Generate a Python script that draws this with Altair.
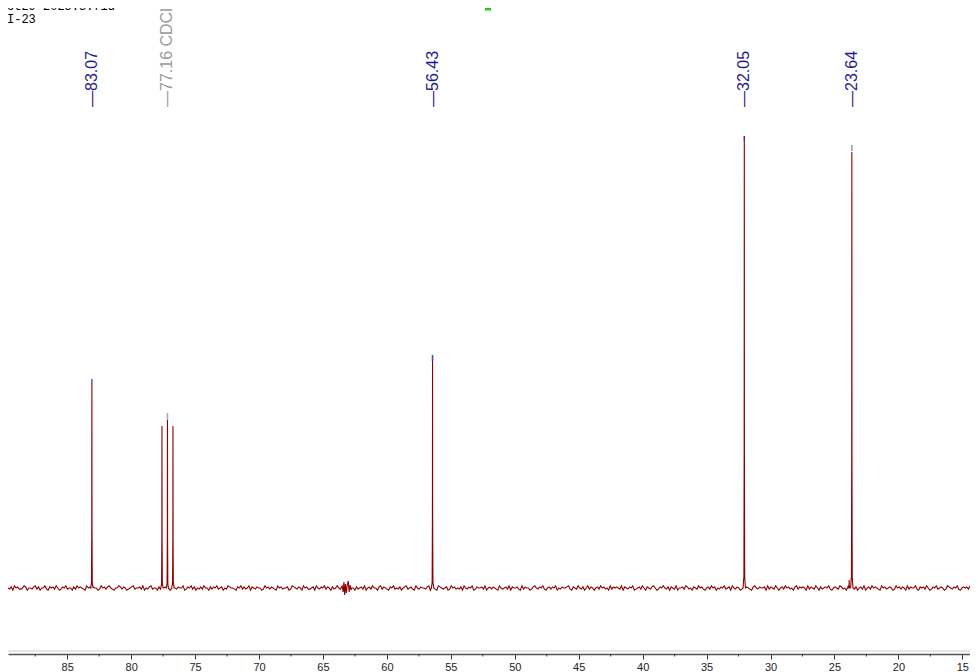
import altair as alt
import pandas as pd
import numpy as np

# ---------------- data ----------------
ppm_left, ppm_right = 89.63, 14.40

peak_ppm = [83.07, 77.59, 77.16, 76.73, 56.43, 32.05, 23.85, 23.64]
peak_height = [203, 162, 168, 162, 227, 447, 8, 436]

marker_ppm = [83.07, 77.16, 56.43, 32.05, 23.64]
marker_low = [203, 168, 227, 447, 437]
marker_high = [209, 175, 233, 452, 443]
marker_color = ["#5a5ac8", "#a8a8a8", "#4848b8", "#3a3aa8", "#9c9cd8"]

label_ppm = [83.07, 77.16, 56.43, 32.05, 23.64]
label_text = ["\u201483.07", "\u201477.16 CDCl3", "\u201456.43", "\u201432.05", "\u201423.64"]
label_color = ["#1c1c8a", "#9a9a9a", "#1c1c8a", "#1c1c8a", "#1c1c8a"]

artifact_ppm = [63.50, 63.42, 63.36, 63.30, 63.24, 63.17, 63.10, 63.02, 62.95, 62.88, 62.80]
artifact_val = [2, -4, 6, -7, 4, -5, 3, 7, -4, 3, -2]

noise_digits = (
    "3241534223541332452413352143425312435233"
    "1425343215342433125342453213354243123452"
    "3342513245233142534321453243351243524132"
    "4253314243523413254332143524235143243312"
    "5342432153423341254324315342234153243524"
    "3142353241432533142342513425331452432143"
    "5232413452342153243324513421543234125342"
    "3241532435124334251342432153234251433421"
    "5243312453243521342435132433452143253241"
    "3524313425342315243432514324351234253143"
    "2453124353241432513342542314325342134253"
    "4132435234153243125343214532433415243253"
    "1342534231452434315243253142343521343254"
    "2314353241342513425343215342343125342431"
    "5243352143425312435234312543243521343425"
)

major_ticks = [85, 80, 75, 70, 65, 60, 55, 50, 45, 40, 35, 30, 25, 20, 15]
minor_ticks = [87.5, 82.5, 77.5, 72.5, 67.5, 62.5, 57.5, 52.5, 47.5, 42.5,
               37.5, 32.5, 27.5, 22.5, 17.5]

header_line1 = "ct29-2025.3.fid"
header_line2 = "I-23"

# ---------------- build the trace ----------------
profile_off = [-0.09, -0.03, -0.01, 0.0, 0.01, 0.03, 0.09]
profile_frac = [0.0, 0.025, 0.3, 1.0, 0.3, 0.025, 0.0]

noise = [(int(c) - 3) * 1.1 for c in noise_digits]
base_x = np.linspace(ppm_left, ppm_right, len(noise))
pts_x, pts_noise = [], []
for x, n in zip(base_x, noise):
    if 62.78 <= x <= 63.52:
        continue
    pts_x.append(x)
    pts_noise.append(n)
for p in peak_ppm:
    for o in profile_off:
        pts_x.append(p + o)
        pts_noise.append(0.0)
for a, v in zip(artifact_ppm, artifact_val):
    pts_x.append(a)
    pts_noise.append(v)

pts_x = np.array(pts_x)
vals = np.array(pts_noise, dtype=float)
for p, h in zip(peak_ppm, peak_height):
    vals += h * np.interp(pts_x - p, profile_off, profile_frac, left=0, right=0)

spec = pd.DataFrame({"ppm": pts_x, "val": vals}).sort_values("ppm")

markers = pd.DataFrame({"ppm": marker_ppm, "lo": marker_low, "hi": marker_high,
                        "c": marker_color})
labels = pd.DataFrame({"ppm": label_ppm, "t": label_text, "c": label_color})
minor = pd.DataFrame({"ppm": minor_ticks})
one = pd.DataFrame({"a": [0]})

W, H = 962, 646
xscale = alt.Scale(domain=[ppm_right, ppm_left], reverse=True, nice=False, zero=False)
yscale = alt.Scale(domain=[-66, 580], nice=False, zero=False)

xaxis = alt.Axis(values=major_ticks, title=None, grid=False, tickSize=5,
                 domainColor="#555555", domainWidth=1.6, tickColor="#333333",
                 labelFont="Liberation Sans", labelFontSize=11, labelColor="#222222",
                 labelPadding=2, format="d")

X = alt.X("ppm:Q", scale=xscale, axis=xaxis)

line = alt.Chart(spec).mark_line(color="#8b0000", strokeWidth=1.1, clip=True).encode(
    x=X,
    y=alt.Y("val:Q", scale=yscale, axis=None),
    order=alt.Order("ppm:Q"),
)

mk = alt.Chart(markers).mark_rule(strokeWidth=1.6).encode(
    x=X,
    y=alt.Y("lo:Q", scale=yscale, axis=None),
    y2="hi:Q",
    color=alt.Color("c:N", scale=None),
)

txt = alt.Chart(labels).mark_text(angle=270, align="left", baseline="middle",
                                  fontSize=16, font="Liberation Sans").encode(
    x=X,
    y=alt.value(99),
    text="t:N",
    color=alt.Color("c:N", scale=None),
)

mt = alt.Chart(minor).mark_rule(color="#333333", strokeWidth=1).encode(
    x=X,
    y=alt.value(H),
    y2=alt.value(H + 2.5),
)

gray_line = alt.Chart(one).mark_rule(color="#cccccc", strokeWidth=1).encode(
    x=alt.value(0), x2=alt.value(W), y=alt.value(H - 3)
)

hdr1 = alt.Chart(one).mark_text(align="left", baseline="alphabetic", fontSize=12,
                                font="Liberation Mono", color="#000000",
                                text=header_line1).encode(
    x=alt.value(-1), y=alt.value(2),
)
hdr2 = alt.Chart(one).mark_text(align="left", baseline="alphabetic", fontSize=12,
                                font="Liberation Mono", color="#000000",
                                text=header_line2).encode(
    x=alt.value(-1), y=alt.value(15),
)

green = alt.Chart(one).mark_rect(color="#22cc22").encode(
    x=alt.value(477), x2=alt.value(483), y=alt.value(0), y2=alt.value(2.5)
)

chart = alt.layer(gray_line, line, mk, mt, txt, hdr1, hdr2, green).properties(
    width=W, height=H,
    autosize=alt.AutoSizeParams(type="none"),
    padding={"left": 0, "right": 0, "top": 0, "bottom": 18},
).configure_view(stroke=None)

chart.save("out.html", embed_options={"renderer": "svg", "actions": False})
